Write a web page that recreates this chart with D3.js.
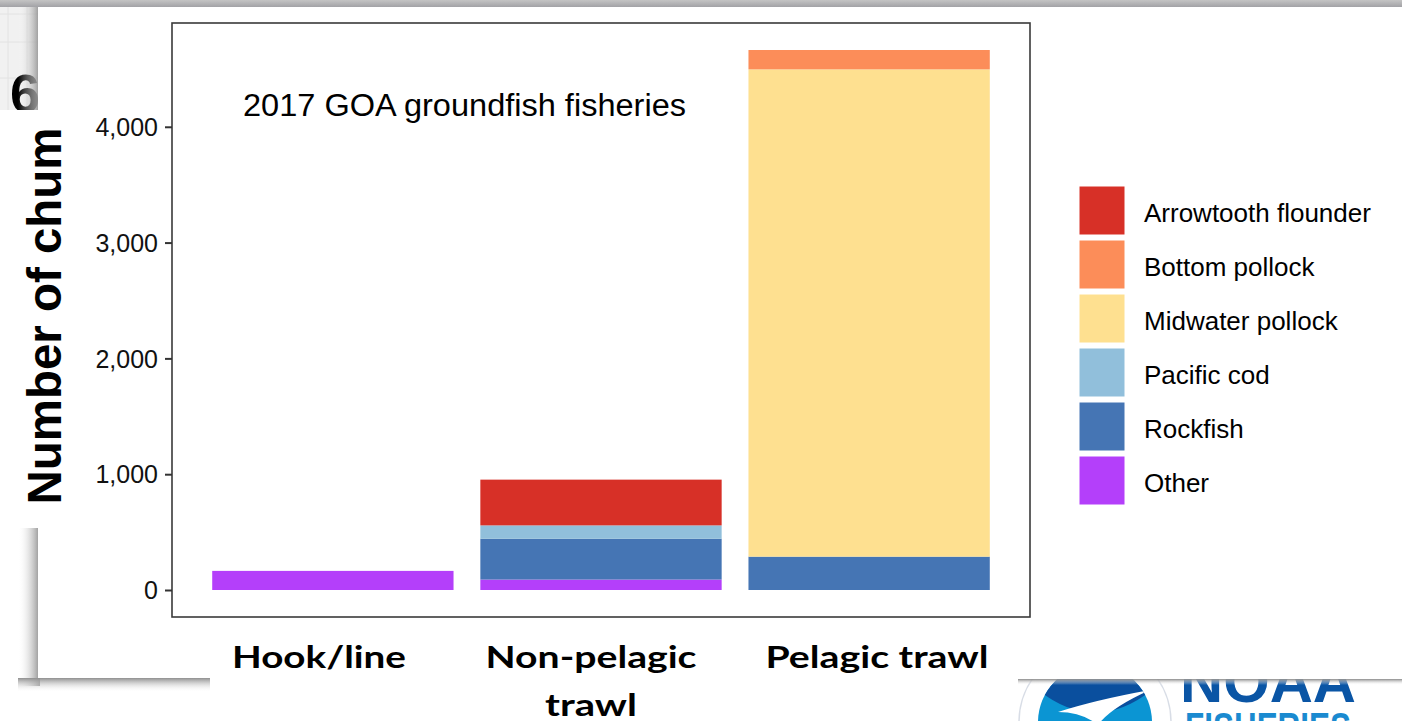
<!DOCTYPE html>
<html>
<head>
<meta charset="utf-8">
<script src="https://cdn.jsdelivr.net/npm/d3@7"></script>
<style>
  html, body { margin: 0; padding: 0; background: #ffffff; }
  svg { display: block; }
</style>
</head>
<body>
<svg id="chart" width="1402" height="721"></svg>
<script>
// ---------------- data ----------------
const categories = ["Hook/line", "Non-pelagic trawl", "Pelagic trawl"];
const categoryLines = [["Hook/line"], ["Non-pelagic", "trawl"], ["Pelagic trawl"]];
const species = ["Arrowtooth flounder", "Bottom pollock", "Midwater pollock", "Pacific cod", "Rockfish", "Other"];
const arrowtoothFlounder = [0, 395, 0];
const bottomPollock = [0, 0, 167];
const midwaterPollock = [0, 0, 4208];
const pacificCod = [0, 115, 0];
const rockfish = [0, 353, 288];
const other = [165, 90, 0];
const yTicks = [0, 1000, 2000, 3000, 4000];
const speciesColors = ["#d73027", "#fc8d59", "#fee090", "#91bfdb", "#4575b4", "#b43ffa"];
const annotation = "2017 GOA groundfish fisheries";
const yTitle = "Number of chum";

// build table
const seriesValues = [arrowtoothFlounder, bottomPollock, midwaterPollock, pacificCod, rockfish, other];
const table = categories.map((c, i) => {
  const row = { category: c };
  species.forEach((s, j) => { row[s] = seriesValues[j][i]; });
  return row;
});

const svg = d3.select("#chart");

// ---------------- slide decorations ----------------
const defs = svg.append("defs");
const gLeft = defs.append("linearGradient").attr("id", "shadowLeft").attr("x1", "0").attr("x2", "1").attr("y1", "0").attr("y2", "0");
gLeft.append("stop").attr("offset", "0").attr("stop-color", "#ffffff").attr("stop-opacity", 0);
gLeft.append("stop").attr("offset", "1").attr("stop-color", "#8f8f8f");
const gBot = defs.append("linearGradient").attr("id", "shadowBottom").attr("x1", "0").attr("x2", "0").attr("y1", "0").attr("y2", "1");
gBot.append("stop").attr("offset", "0").attr("stop-color", "#8f8f8f");
gBot.append("stop").attr("offset", "1").attr("stop-color", "#ffffff").attr("stop-opacity", 0);
const gTop = defs.append("linearGradient").attr("id", "stripTop").attr("x1", "0").attr("x2", "0").attr("y1", "0").attr("y2", "1");
gTop.append("stop").attr("offset", "0").attr("stop-color", "#c4c4c4");
gTop.append("stop").attr("offset", "1").attr("stop-color", "#a2a2a6");

const deco = svg.append("g").attr("class", "deco");
// slide background top-left
deco.append("rect").attr("x", 0).attr("y", 0).attr("width", 40).attr("height", 112).attr("fill", "#f1f1f1");
[8, 27].forEach(x => deco.append("line").attr("x1", x).attr("x2", x).attr("y1", 0).attr("y2", 112).attr("stroke", "#e2e2e2"));
[14, 42, 78].forEach(y => deco.append("line").attr("x1", 0).attr("x2", 40).attr("y1", y).attr("y2", y).attr("stroke", "#e2e2e2"));
// big "6" from slide title
deco.append("text").attr("x", 10).attr("y", 112).attr("font-family", "Liberation Sans, Arial, sans-serif")
  .attr("font-weight", "bold").attr("font-size", 54).attr("fill", "#000").text("6");
// left shadow of chart image
deco.append("rect").attr("x", 18).attr("y", 6).attr("width", 22).attr("height", 680).attr("fill", "url(#shadowLeft)");
// bottom shadow
deco.append("rect").attr("x", 18).attr("y", 678).attr("width", 200).attr("height", 14).attr("fill", "url(#shadowBottom)");
// top strip
deco.append("rect").attr("x", 0).attr("y", 0).attr("width", 1402).attr("height", 7).attr("fill", "url(#stripTop)");
// white chart image
deco.append("rect").attr("x", 38).attr("y", 7).attr("width", 1364).attr("height", 671).attr("fill", "#ffffff");
// white textbox of the y title
deco.append("rect").attr("x", 0).attr("y", 110).attr("width", 75).attr("height", 418).attr("fill", "#ffffff");
// white textbox of x labels
deco.append("rect").attr("x", 210).attr("y", 619).attr("width", 810).attr("height", 102).attr("fill", "#ffffff");

// ---------------- chart ----------------
const panel = { left: 172, right: 1030, top: 23, bottom: 617 };
const stack = d3.stack().keys(species.slice().reverse());
const stacked = stack(table);
const maxTotal = d3.max(stacked[stacked.length - 1], d => d[1]);

const x = d3.scaleBand().domain(categories).range([panel.left, panel.right]).paddingInner(0.1).paddingOuter(0.15);
const y = d3.scaleLinear().domain([-0.05 * maxTotal, 1.05 * maxTotal]).range([panel.bottom, panel.top]);
const color = d3.scaleOrdinal().domain(species).range(speciesColors);

// panel background
svg.append("rect").attr("x", panel.left).attr("y", panel.top)
  .attr("width", panel.right - panel.left).attr("height", panel.bottom - panel.top).attr("fill", "#ffffff");

// bars
svg.append("g").selectAll("g").data(stacked).join("g")
  .attr("fill", d => color(d.key))
  .selectAll("rect").data(d => d.filter(p => p[1] - p[0] > 0)).join("rect")
  .attr("x", d => x(d.data.category))
  .attr("width", x.bandwidth())
  .attr("y", d => y(d[1]))
  .attr("height", d => y(d[0]) - y(d[1]));

// panel border
svg.append("rect").attr("x", panel.left).attr("y", panel.top)
  .attr("width", panel.right - panel.left).attr("height", panel.bottom - panel.top)
  .attr("fill", "none").attr("stroke", "#3a3a3a").attr("stroke-width", 1.6);

// y axis
const yAxis = svg.append("g").attr("transform", `translate(${panel.left},0)`)
  .call(d3.axisLeft(y).tickValues(yTicks).tickFormat(d3.format(",")).tickSize(7).tickPadding(7));
yAxis.select(".domain").remove();
yAxis.selectAll(".tick line").attr("stroke", "#333").attr("stroke-width", 2);
yAxis.selectAll(".tick text").attr("font-family", "Liberation Sans, Arial, sans-serif")
  .attr("font-size", 25).attr("fill", "#111").attr("dy", "0.35em");

// annotation
svg.append("text").attr("x", 243).attr("y", 116)
  .attr("font-family", "Liberation Sans, Arial, sans-serif").attr("font-size", 31)
  .attr("textLength", 443).attr("lengthAdjust", "spacingAndGlyphs")
  .attr("fill", "#000").text(annotation);

// y title
svg.append("text").attr("transform", "translate(61,316) rotate(-90)")
  .attr("text-anchor", "middle")
  .attr("font-family", "Liberation Sans, Arial, sans-serif").attr("font-weight", "bold").attr("font-size", 48)
  .attr("textLength", 377).attr("lengthAdjust", "spacingAndGlyphs")
  .attr("fill", "#000").text(yTitle);

// x labels (slide text, bold)
const xLabelPos = [{ cx: 319, widths: [174] }, { cx: 591, widths: [211, 92] }, { cx: 877, widths: [223] }];
categoryLines.forEach((lines, i) => {
  lines.forEach((ln, k) => {
    svg.append("text")
      .attr("x", xLabelPos[i].cx).attr("y", 668 + k * 48)
      .attr("text-anchor", "middle")
      .attr("font-family", "Lato, 'Open Sans', sans-serif").attr("font-weight", "bold").attr("font-size", 31)
      .attr("textLength", xLabelPos[i].widths[k]).attr("lengthAdjust", "spacingAndGlyphs")
      .attr("fill", "#000").text(ln);
  });
});

// legend
const legend = svg.append("g").attr("transform", "translate(1079,186)");
const item = legend.selectAll("g").data(species).join("g")
  .attr("transform", (d, i) => `translate(0,${i * 54})`);
item.append("rect").attr("width", 46).attr("height", 49)
  .attr("fill", d => color(d)).attr("stroke", "#ffffff").attr("stroke-width", 1);
item.append("text").attr("x", 65).attr("y", 36)
  .attr("font-family", "Liberation Sans, Arial, sans-serif").attr("font-size", 26)
  .attr("fill", "#000").text(d => d);

// ---------------- NOAA logo (partial, bottom right) ----------------
const logoClip = defs.append("clipPath").attr("id", "logoClip");
logoClip.append("rect").attr("x", 1018).attr("y", 679).attr("width", 384).attr("height", 42);
const logo = svg.append("g").attr("clip-path", "url(#logoClip)");
logo.append("rect").attr("x", 1018).attr("y", 679).attr("width", 384).attr("height", 42).attr("fill", "#ffffff");
logo.append("circle").attr("cx", 1095).attr("cy", 722).attr("r", 76).attr("fill", "#ffffff").attr("stroke", "#d8dde6").attr("stroke-width", 1.5);
const innerClip = defs.append("clipPath").attr("id", "innerClip");
innerClip.append("circle").attr("cx", 1095).attr("cy", 722).attr("r", 57);
const inner = logo.append("g").attr("clip-path", "url(#innerClip)");
inner.append("rect").attr("x", 1030).attr("y", 660).attr("width", 130).attr("height", 70).attr("fill", "#0b95d3");
inner.append("path").attr("d", "M1038,660 L1152,660 L1152,690 Q1095,735 1038,690 Z").attr("fill", "#0a4f9e");
inner.append("path").attr("d", "M1058,712 Q1095,700 1150,690 Q1110,708 1098,725 Q1082,712 1058,712 Z").attr("fill", "#ffffff");
logo.append("text").attr("x", 1180).attr("y", 702)
  .attr("font-family", "Liberation Sans, Arial, sans-serif").attr("font-weight", "bold").attr("font-size", 60)
  .attr("textLength", 176).attr("lengthAdjust", "spacingAndGlyphs").attr("fill", "#0a55a5").text("NOAA");
logo.append("text").attr("x", 1185).attr("y", 742)
  .attr("font-family", "Liberation Sans, Arial, sans-serif").attr("font-weight", "bold").attr("font-size", 42)
  .attr("textLength", 166).attr("lengthAdjust", "spacingAndGlyphs").attr("fill", "#1a8ad0").text("FISHERIES");
const gLogo = defs.append("linearGradient").attr("id", "logoShadow").attr("x1", "0").attr("x2", "0").attr("y1", "0").attr("y2", "1");
gLogo.append("stop").attr("offset", "0").attr("stop-color", "#8a8a8a");
gLogo.append("stop").attr("offset", "1").attr("stop-color", "#ffffff").attr("stop-opacity", 0);
logo.append("rect").attr("x", 1018).attr("y", 679).attr("width", 384).attr("height", 6).attr("fill", "url(#logoShadow)");
</script>
</body>
</html>
